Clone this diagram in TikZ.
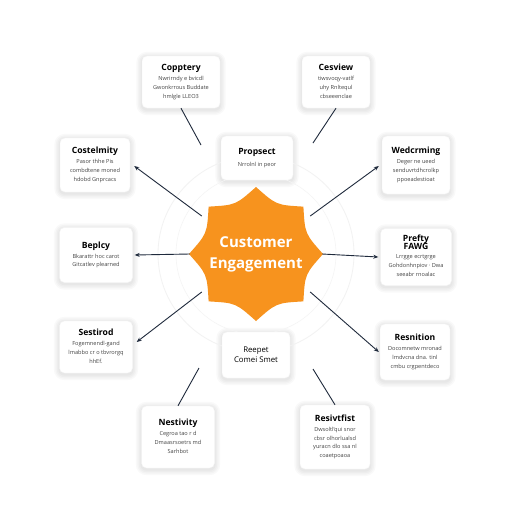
\documentclass[tikz,border=0pt]{standalone}
\usepackage{fontspec}
\setmainfont{Open Sans}
\usetikzlibrary{arrows.meta,backgrounds}
\definecolor{navy}{HTML}{1F2A3C}
\definecolor{starorange}{HTML}{F7931E}
\definecolor{bodygray}{HTML}{444444}
\tikzset{
  card/.style={draw=black!4, fill=white, rounded corners=5pt, line width=0.4pt,
    inner sep=0pt, text=black},
  conn/.style={draw=navy, line width=0.9pt},
  arr/.style={conn, -{Stealth[length=5pt,width=4pt]}},
  shad/.style={fill=black, opacity=0.025},
}
\newcommand{\ttlf}{\fontsize{8.6}{10}\selectfont\bfseries}
\newcommand{\bodf}{\fontsize{5.6}{8.8}\selectfont\color{bodygray}}
\newcommand{\cardtxt}[2]{{\fontsize{8.5}{11}\selectfont
  \begin{tabular}{@{}c@{}}{\ttlf #1}\\[0.5pt]{\bodf\begin{tabular}{@{}c@{}}#2\end{tabular}}\end{tabular}}}
\begin{document}
\begin{tikzpicture}[x=1pt,y=-1pt]
\useasboundingbox (0,0) rectangle (512,512);
% faint rings
\draw[black!5, line width=0.8pt] (256,254) circle (98);
\draw[black!4, line width=0.6pt] (256,254) circle (80);
% cards
\node[card, minimum width=78, minimum height=52] (b1) at (181,82)
  {\cardtxt{Copptery}{Nwrirndy e bvicdl\\Gwonkrrous Buddate\\hmlgle LLEO3}};
\node[card, minimum width=68, minimum height=52] (b2) at (336,82)
  {\cardtxt{Cesview}{tiwsvoqy-vatlf\\uhy Rnltequl\\cbseeenclae}};
\node[card, minimum width=70, minimum height=54] (b3) at (95,165)
  {\cardtxt{Costelmity}{Pasor thhe Pis\\combdtene moned\\hdobd Gnprcacs}};
\node[card, minimum width=68, minimum height=58] (b4) at (416,165)
  {\cardtxt{Wedcrming}{Deger ne ueed\\senduvrtdhcrolkp\\ppoeadestioat}};
\node[card, minimum width=72, minimum height=44] (b5) at (257,158)
  {\cardtxt{Propsect}{Nrrolnl in peor}};
\node[card, minimum width=73, minimum height=55] (b6) at (96,255)
  {\cardtxt{Beplcy}{Bkarattr hoc carot\\Gitcatlev plearned}};
\node[card, minimum width=71, minimum height=57] (b7) at (416,257)
  {\fontsize{8.5}{9}\selectfont\begin{tabular}{@{}c@{}}\ttlf Prefty\\[-1pt]\ttlf FAWG\\[0pt]{\bodf\begin{tabular}{@{}c@{}}Lrrgge ecrtgrge\\Gohdonhnpiov · Dwa\\seeabr rnoalac\end{tabular}}\end{tabular}};
\node[card, minimum width=73, minimum height=52] (b8) at (96,347)
  {\cardtxt{Sestirod}{Fogemnendl-gand\\lmabbo cr o tbvrorgq\\hhEf.}};
\node[card, minimum width=70, minimum height=56] (b9) at (415,352)
  {\cardtxt{Resnition}{Docomnetw mronad\\lmdvcna dna. tinl\\cmbu crgpentdeco}};
\node[card, minimum width=68, minimum height=46] (b10) at (256,355)
  {\fontsize{7.8}{12}\selectfont\begin{tabular}{@{}c@{}}Reepet\\[-2pt]Comei Smet\end{tabular}};
\node[card, minimum width=73, minimum height=62] (b11) at (178,437)
  {\cardtxt{Nestivity}{Cegroa tao r d\\Dmaasrsoetrs md\\Sarhbot}};
\node[card, minimum width=70, minimum height=64] (b12) at (335,437)
  {\cardtxt{Resivtfist}{Dwsoltl'qui snor\\cbsr olhorlualsd\\yuracn dlo ssa nl\\coaetpoaoa}};
\begin{pgfonlayer}{background}
\fill[white] (0,0) rectangle (512,512);
\foreach \n in {b1,b2,b3,b4,b5,b6,b7,b8,b9,b10,b11,b12}
  \foreach \e in {1,2.5,4,5.5}
    \fill[shad, rounded corners=5pt+\e] ([shift={(-\e,-\e+1.5)}]\n.north west) rectangle ([shift={(\e,\e+1.5)}]\n.south east);
\end{pgfonlayer}
% central star with concave edges
\fill[starorange, shift={(256,254)}]
  (90:67) \foreach \a in {90,135,...,405} { .. controls (\a+22.5:53) .. (\a+45:67) } -- cycle;
\node[circle, minimum size=132, inner sep=0pt, text=white] (c) at (256,254)
  {\fontsize{15}{21}\selectfont\bfseries\begin{tabular}{@{}c@{}}Customer\\Engagement\end{tabular}};
% free connector ends near the ring
\coordinate (t1) at (201,145);
\coordinate (t2) at (313,143);
\coordinate (u1) at (199,368);
\coordinate (u2) at (313,369);
% connectors
\draw[conn] (t1) -- (b1.south);
\draw[conn] (t2) -- (b2.south);
\draw[conn] (u1) -- (b11.north);
\draw[conn] (u2) -- (b12.north);
\draw[arr] (c.145) -- ([xshift=4pt,yshift=-1pt]b3.east);
\draw[arr] (c.35) -- ([xshift=-3pt,yshift=-1pt]b4.west);
\draw[arr] (c.180) -- ([xshift=2pt]b6.east);
\draw[arr] (c.0) -- ([xshift=-2pt]b7.west);
\draw[arr] (c.215) -- ([xshift=4pt,yshift=5pt]b8.east);
\draw[arr] (c.325) -- ([xshift=-1pt]b9.west);
\end{tikzpicture}
\end{document}
